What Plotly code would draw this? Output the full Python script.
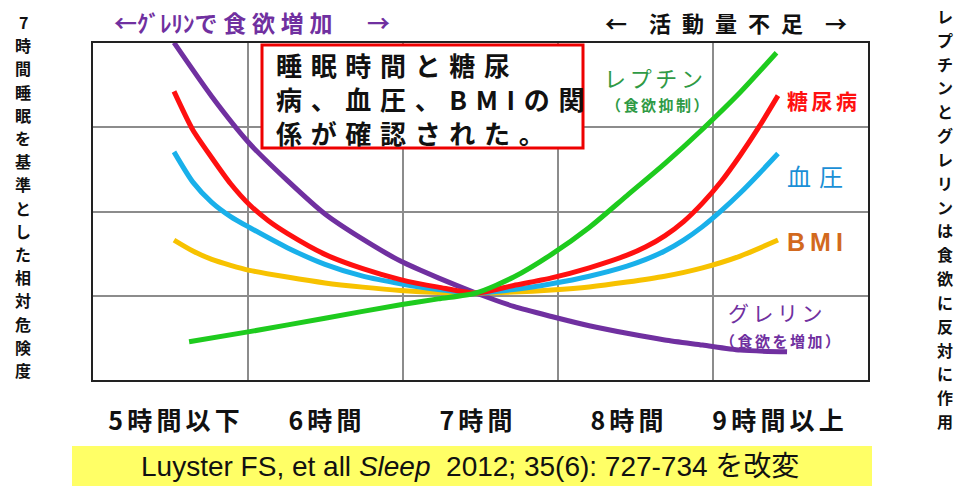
import plotly.graph_objects as go

# Sleep duration (hours) on x, risk relative to 7 hours of sleep on y
hour_ticks = [5, 6, 7, 8, 9]
hour_labels = ["5時間以下", "6時間", "7時間", "8時間", "9時間以上"]

hours_ghrelin = [5.0, 5.25, 5.50, 5.75, 6.0, 6.25, 6.50, 6.75, 7.0, 7.25, 7.50, 7.75, 8.0, 8.25, 8.50, 8.75, 9.06]
risk_ghrelin = [2.49, 2.17, 1.89, 1.67, 1.47, 1.32, 1.19, 1.09, 1.00, 0.92, 0.86, 0.805, 0.76, 0.72, 0.69, 0.66, 0.65]

hours_diabetes = [5.0, 5.125, 5.25, 5.375, 5.5, 5.625, 5.75, 6.0, 6.25, 6.5, 6.75, 7.0, 7.25, 7.5, 7.75,
                  8.0, 8.125, 8.25, 8.375, 8.5, 8.625, 8.75, 8.875, 9.0]
risk_diabetes = [2.20, 1.97, 1.805, 1.65, 1.525, 1.43, 1.355, 1.23, 1.145, 1.08, 1.035, 1.00, 1.045, 1.09, 1.15,
                 1.225, 1.275, 1.34, 1.425, 1.535, 1.665, 1.82, 1.99, 2.175]

hours_bp = [5.0, 5.125, 5.25, 5.375, 5.5, 5.75, 6.0, 6.25, 6.5, 6.75, 7.0, 7.25, 7.5, 7.75,
            8.0, 8.125, 8.25, 8.375, 8.5, 8.625, 8.75, 8.875, 9.0]
risk_bp = [1.84, 1.66, 1.54, 1.455, 1.39, 1.27, 1.17, 1.10, 1.055, 1.02, 1.00, 1.02, 1.055, 1.10,
           1.16, 1.20, 1.25, 1.315, 1.395, 1.49, 1.595, 1.71, 1.83]

hours_bmi = [5.0, 5.125, 5.25, 5.375, 5.5, 5.75, 6.0, 6.25, 6.5, 6.75, 7.0, 7.25, 7.5, 7.75, 8.0,
             8.25, 8.5, 8.75, 9.0]
risk_bmi = [1.315, 1.25, 1.20, 1.165, 1.135, 1.095, 1.06, 1.035, 1.015, 1.003, 1.00, 1.006, 1.018, 1.036,
            1.065, 1.10, 1.15, 1.22, 1.315]

hours_leptin = [5.10, 5.50, 6.0, 6.50, 6.75, 7.0, 7.25, 7.50, 7.75, 8.0, 8.25, 8.50, 8.75, 8.99]
risk_leptin = [0.71, 0.77, 0.85, 0.93, 0.965, 1.00, 1.095, 1.23, 1.39, 1.58, 1.77, 1.975, 2.195, 2.43]

PURPLE = "#7030a0"
RED = "#ff1010"
BLUE = "#19b0ea"
YELLOW = "#f7c200"
GREEN = "#1ecb1e"

JP = "Noto Sans CJK JP"

# figure geometry (pixels)
FIG_W, FIG_H = 962, 486
L, R, T, B = 93, 868, 43, 380
PW, PH = R - L, B - T


def px(x):
    return (x - L) / PW


def py(y):
    return (B - y) / PH


def spaced(s, gap):
    return gap.join(s)


fig = go.Figure()

series = [
    (hours_ghrelin, risk_ghrelin, PURPLE, "グレリン"),
    (hours_bmi, risk_bmi, YELLOW, "BMI"),
    (hours_bp, risk_bp, BLUE, "血圧"),
    (hours_diabetes, risk_diabetes, RED, "糖尿病"),
    (hours_leptin, risk_leptin, GREEN, "レプチン"),
]
for xs, ys, col, name in series:
    fig.add_trace(go.Scatter(
        x=xs, y=ys, mode="lines", name=name,
        line=dict(color=col, width=5, shape="spline", smoothing=0.7),
        showlegend=False, hoverinfo="skip",
    ))

# empty trace carrying the 5x4 panel grid axes
fig.add_trace(go.Scatter(x=[None], y=[None], xaxis="x2", yaxis="y2",
                         mode="lines", showlegend=False, hoverinfo="skip"))

# x: 5h at px 174, 151 px per hour; y: 1.0 at px 293, 168 px per unit
x_lo = 5 + (L - 174) / 151
x_hi = 5 + (R - 174) / 151
y_lo = 1 + (293 - B) / 168
y_hi = 1 + (293 - T) / 168

fig.update_layout(
    width=FIG_W, height=FIG_H, autosize=False,
    margin=dict(l=L, r=FIG_W - R, t=T, b=FIG_H - B, pad=0),
    paper_bgcolor="white", plot_bgcolor="white",
    xaxis=dict(range=[x_lo, x_hi], tickvals=hour_ticks,
               ticktext=[spaced(t, "\u2006") for t in hour_labels],
               tickfont=dict(family=JP, size=25, color="#111", weight="bold"),
               ticks="", ticklabelstandoff=18,
               showgrid=False, zeroline=False, showline=True, mirror=True,
               linecolor="#222", linewidth=2),
    yaxis=dict(range=[y_lo, y_hi], showticklabels=False, ticks="",
               showgrid=False, zeroline=False, showline=True, mirror=True,
               linecolor="#222", linewidth=2),
    xaxis2=dict(overlaying="x", anchor="y2", range=[0, 5], dtick=1, tick0=0,
                showgrid=True, gridcolor="#8c8c8c", gridwidth=1.6,
                showticklabels=False, ticks="", zeroline=False, showline=False),
    yaxis2=dict(overlaying="y", anchor="x2", range=[0, 4], dtick=1, tick0=0,
                showgrid=True, gridcolor="#8c8c8c", gridwidth=1.6,
                showticklabels=False, ticks="", zeroline=False, showline=False),
)

shapes = [
    # headline box
    dict(type="rect", xref="paper", yref="paper",
         x0=px(262), x1=px(583), y0=py(148), y1=py(45),
         line=dict(color="#ee0000", width=3), fillcolor="white", layer="above"),
    # citation band
    dict(type="rect", xref="paper", yref="paper",
         x0=px(72), x1=px(872), y0=py(487), y1=py(446),
         line=dict(width=0), fillcolor="#ffff66", layer="below"),
]
fig.update_layout(shapes=shapes)


def note(text, x, y, size, color, xanchor="center", yanchor="middle",
         family=JP, weight="bold", align="center"):
    return dict(text=text, x=px(x), y=py(y), xref="paper", yref="paper",
                xanchor=xanchor, yanchor=yanchor, showarrow=False, align=align,
                font=dict(family=family, size=size, color=color, weight=weight))


def column(text, x, y_first, y_last, size):
    # one glyph per line, stacked top to bottom
    step = (y_last - y_first) / (len(text) - 1)
    return [note(ch, x, y_first + i * step, size, "#111") for i, ch in enumerate(text)]


headline = "<br>".join(spaced(line, "\u2004") for line in
                       ["睡眠時間と糖尿", "病、血圧、BMIの関", "係が確認された。"])

annotations = [
    note("←ｸﾞﾚﾘﾝ" + spaced("で食欲増加", "\u2005") + "\u2003\u2002→", 252, 22, 23, PURPLE),
    note("←\u2003" + spaced("活動量不足", "\u2002") + "\u2003→", 726, 22, 22, "#111"),
    note(headline, 274, 99, 26, "#111", xanchor="left", align="left"),
    note(spaced("レプチン", "\u2006"), 653, 77, 22, "#2f9a45", weight="normal"),
    note(spaced("（食欲抑制）", "\u2006"), 657, 104, 15, "#2f9a45"),
    note(spaced("糖尿病", "\u2006"), 785, 100, 21, RED, xanchor="left"),
    note(spaced("血圧", "\u2004"), 785, 175, 24, "#1a8fd6", xanchor="left", weight="normal"),
    note(spaced("BMI", "\u2009"), 785, 242, 25, "#d2691e", xanchor="left",
         family="Liberation Sans"),
    note(spaced("グレリン", "\u2006"), 775, 312, 21, PURPLE, weight="normal"),
    note(spaced("（食欲を増加）", "\u2006"), 780, 340, 15, PURPLE),
    note("Luyster FS, et all <i>Sleep</i>  2012; 35(6): 727-734 を改変", 470, 466, 28,
         "#111", family="Liberation Sans, " + JP, weight="normal"),
]
annotations += column("7時間睡眠を基準とした相対危険度", 23, 22, 370, 16)
annotations += column("レプチンとグレリンは食欲に反対に作用", 945, 16, 421, 16)
fig.update_layout(annotations=annotations)

fig.write_html("out.html")
